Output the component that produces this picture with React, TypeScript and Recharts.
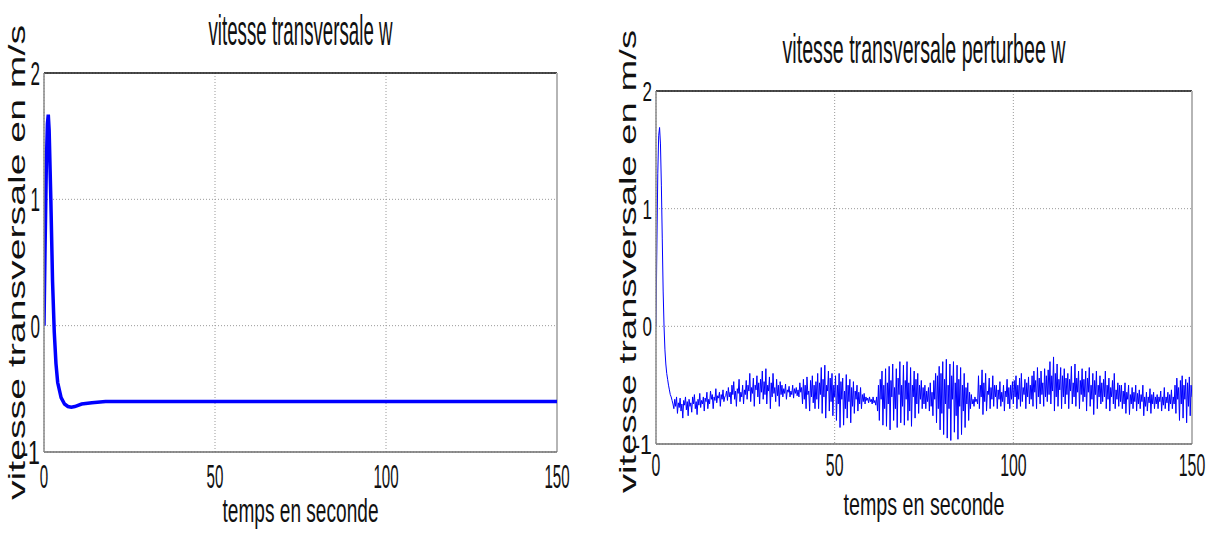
import React from 'react';
import { LineChart, Line, XAxis, YAxis, CartesianGrid, ReferenceLine } from 'recharts';

const xTicks = [0, 50, 100, 150];
const yTicks = [-1, 0, 1, 2];

const titreGauche = 'vitesse transversale w';
const titreDroite = 'vitesse transversale perturbee w';
const labelX = 'temps en seconde';
const labelY = 'vitesse transversale en m/s';

// w(t) sans perturbation
const tempsW = [0, 0.3, 0.7, 1.0, 1.25, 1.5, 2, 2.5, 3, 3.5, 4, 5, 6, 7, 8, 9, 11, 14, 18, 25, 150];
const vitesseW = [0, 0.6, 1.3, 1.6, 1.67, 1.55, 1.0, 0.35, -0.05, -0.3, -0.45, -0.57, -0.62, -0.64, -0.645, -0.64, -0.62, -0.61, -0.6, -0.6, -0.6];

// w(t) perturbee, un point toutes les 0.25 s de 0 a 150 s (une ligne = 5 s)
const pas = 0.25;
const vitesseWp = [
  0, 0.7, 1.3, 1.62, 1.69, 1.55, 1.2, 0.75, 0.3, 0.0, -0.2, -0.32, -0.4, -0.45, -0.5, -0.54, -0.58, -0.6, -0.63, -0.66,
  -0.7, -0.62, -0.68, -0.6, -0.74, -0.65, -0.69, -0.61, -0.72, -0.66, -0.78, -0.63, -0.67, -0.6, -0.71, -0.64, -0.76, -0.62, -0.68, -0.65,
  -0.73, -0.6, -0.66, -0.58, -0.7, -0.64, -0.75, -0.62, -0.67, -0.57, -0.69, -0.63, -0.66, -0.6, -0.72, -0.61, -0.64, -0.56, -0.7, -0.62,
  -0.66, -0.55, -0.62, -0.58, -0.7, -0.6, -0.63, -0.53, -0.65, -0.59, -0.61, -0.56, -0.68, -0.58, -0.62, -0.54, -0.64, -0.6, -0.59, -0.55,
  -0.63, -0.52, -0.6, -0.56, -0.66, -0.5, -0.58, -0.47, -0.62, -0.55, -0.68, -0.53, -0.57, -0.45, -0.64, -0.56, -0.6, -0.5, -0.66, -0.54,
  -0.58, -0.46, -0.62, -0.5, -0.55, -0.4, -0.64, -0.52, -0.57, -0.44, -0.68, -0.5, -0.54, -0.42, -0.6, -0.48, -0.66, -0.45, -0.56, -0.38,
  -0.62, -0.47, -0.58, -0.36, -0.66, -0.5, -0.55, -0.43, -0.7, -0.48, -0.6, -0.4, -0.57, -0.52, -0.64, -0.45, -0.59, -0.5, -0.68, -0.47,
  -0.58, -0.5, -0.6, -0.53, -0.57, -0.49, -0.62, -0.54, -0.56, -0.51, -0.6, -0.55, -0.58, -0.5, -0.61, -0.53, -0.57, -0.52, -0.59, -0.54,
  -0.6, -0.48, -0.56, -0.52, -0.66, -0.45, -0.62, -0.5, -0.7, -0.43, -0.58, -0.55, -0.72, -0.46, -0.6, -0.42, -0.65, -0.5, -0.7, -0.47,
  -0.62, -0.4, -0.7, -0.48, -0.58, -0.35, -0.74, -0.45, -0.6, -0.33, -0.78, -0.5, -0.55, -0.38, -0.72, -0.44, -0.64, -0.4, -0.76, -0.5,
  -0.6, -0.42, -0.8, -0.5, -0.66, -0.4, -0.86, -0.47, -0.62, -0.44, -0.84, -0.55, -0.7, -0.41, -0.78, -0.5, -0.64, -0.45, -0.82, -0.52,
  -0.68, -0.47, -0.74, -0.55, -0.62, -0.5, -0.72, -0.56, -0.66, -0.52, -0.7, -0.58, -0.64, -0.57, -0.66, -0.6, -0.63, -0.61, -0.65, -0.6,
  -0.64, -0.62, -0.66, -0.6, -0.65, -0.63, -0.67, -0.6, -0.72, -0.5, -0.8, -0.45, -0.62, -0.38, -0.84, -0.5, -0.7, -0.36, -0.85, -0.48,
  -0.66, -0.34, -0.88, -0.46, -0.6, -0.32, -0.8, -0.52, -0.7, -0.36, -0.86, -0.44, -0.58, -0.3, -0.82, -0.5, -0.68, -0.33, -0.84, -0.46,
  -0.62, -0.3, -0.8, -0.48, -0.72, -0.35, -0.85, -0.5, -0.6, -0.38, -0.78, -0.45, -0.66, -0.4, -0.74, -0.5, -0.62, -0.46, -0.7, -0.52,
  -0.66, -0.5, -0.7, -0.55, -0.64, -0.52, -0.72, -0.48, -0.68, -0.56, -0.76, -0.46, -0.62, -0.4, -0.82, -0.42, -0.7, -0.34, -0.88, -0.4,
  -0.74, -0.3, -0.92, -0.45, -0.66, -0.28, -0.95, -0.5, -0.7, -0.32, -0.97, -0.42, -0.62, -0.3, -0.9, -0.48, -0.76, -0.33, -0.96, -0.45,
  -0.68, -0.35, -0.92, -0.5, -0.72, -0.4, -0.86, -0.52, -0.66, -0.48, -0.8, -0.56, -0.7, -0.58, -0.66, -0.62, -0.68, -0.6, -0.64, -0.62,
  -0.66, -0.42, -0.7, -0.5, -0.6, -0.37, -0.75, -0.48, -0.64, -0.4, -0.72, -0.55, -0.58, -0.44, -0.7, -0.52, -0.62, -0.42, -0.68, -0.5,
  -0.6, -0.5, -0.7, -0.54, -0.62, -0.47, -0.68, -0.56, -0.64, -0.5, -0.72, -0.55, -0.6, -0.45, -0.66, -0.52, -0.7, -0.5, -0.62, -0.47,
  -0.66, -0.46, -0.6, -0.42, -0.7, -0.5, -0.62, -0.44, -0.68, -0.4, -0.64, -0.52, -0.58, -0.45, -0.7, -0.48, -0.6, -0.43, -0.66, -0.5,
  -0.62, -0.42, -0.68, -0.38, -0.56, -0.46, -0.7, -0.35, -0.6, -0.44, -0.66, -0.38, -0.58, -0.48, -0.68, -0.36, -0.6, -0.42, -0.64, -0.37,
  -0.58, -0.3, -0.66, -0.42, -0.55, -0.26, -0.72, -0.4, -0.6, -0.32, -0.68, -0.45, -0.54, -0.35, -0.7, -0.42, -0.6, -0.36, -0.66, -0.44,
  -0.58, -0.4, -0.7, -0.45, -0.55, -0.34, -0.66, -0.48, -0.6, -0.32, -0.68, -0.44, -0.56, -0.38, -0.7, -0.46, -0.58, -0.36, -0.64, -0.45,
  -0.6, -0.38, -0.72, -0.44, -0.56, -0.35, -0.68, -0.5, -0.62, -0.4, -0.75, -0.46, -0.58, -0.38, -0.7, -0.5, -0.6, -0.42, -0.66, -0.48,
  -0.64, -0.45, -0.6, -0.38, -0.7, -0.5, -0.62, -0.44, -0.72, -0.52, -0.6, -0.46, -0.66, -0.4, -0.7, -0.54, -0.62, -0.48, -0.68, -0.5,
  -0.64, -0.5, -0.7, -0.55, -0.66, -0.48, -0.74, -0.56, -0.62, -0.5, -0.75, -0.58, -0.66, -0.52, -0.7, -0.56, -0.64, -0.5, -0.72, -0.57,
  -0.66, -0.54, -0.7, -0.58, -0.64, -0.5, -0.76, -0.6, -0.68, -0.56, -0.72, -0.6, -0.65, -0.53, -0.74, -0.58, -0.66, -0.56, -0.7, -0.6,
  -0.66, -0.58, -0.7, -0.6, -0.64, -0.55, -0.72, -0.6, -0.67, -0.52, -0.7, -0.6, -0.65, -0.56, -0.72, -0.58, -0.66, -0.54, -0.7, -0.6,
  -0.66, -0.5, -0.74, -0.44, -0.62, -0.52, -0.8, -0.46, -0.66, -0.42, -0.78, -0.5, -0.62, -0.45, -0.82, -0.48, -0.68, -0.43, -0.76, -0.5,
  -0.6,
];

const dataW = tempsW.map((t, i) => ({ t, w: vitesseW[i] }));
const dataWp = vitesseWp.map((w, i) => ({ t: i * pas, w }));

const police = '"Liberation Sans Narrow", "Liberation Sans", Arial, sans-serif';

// texte etroit facon figure matlab etiree
const Etroit = ({ x, y, fs, longueur, anchor = 'middle', rot = false, children }: any) => (
  <text
    x={x}
    y={y}
    fontSize={fs}
    fontFamily={police}
    fill="#111"
    textAnchor={anchor}
    textLength={longueur}
    lengthAdjust="spacingAndGlyphs"
    transform={rot ? `rotate(-90, ${x}, ${y})` : undefined}
  >
    {children}
  </text>
);

const tickX = (fs: number, cw: number, dy: number) => (props: any) => {
  const s = String(props.payload.value);
  return (
    <Etroit x={props.x} y={props.y + dy} fs={fs} longueur={s.length * cw}>
      {s}
    </Etroit>
  );
};

const tickY = (fs: number, cw: number) => (props: any) => {
  const s = String(props.payload.value);
  return (
    <Etroit x={props.x - 4} y={props.y + fs * 0.36} fs={fs} longueur={s.length * cw} anchor="end">
      {s}
    </Etroit>
  );
};

const titre = (texte: string, fs: number, longueur: number) => (props: any) => {
  const vb = props.viewBox;
  return (
    <Etroit x={vb.x + vb.width / 2} y={vb.y - 28} fs={fs} longueur={longueur}>
      {texte}
    </Etroit>
  );
};

const labelAxeX = (fs: number, longueur: number, dy: number) => (props: any) => {
  const vb = props.viewBox;
  return (
    <Etroit x={vb.x + vb.width / 2} y={vb.y + dy} fs={fs} longueur={longueur}>
      {labelX}
    </Etroit>
  );
};

const labelAxeY = (fs: number, longueur: number, dx: number, dy: number) => (props: any) => {
  const vb = props.viewBox;
  return (
    <Etroit x={vb.x + vb.width - dx} y={vb.y + vb.height / 2 + dy} fs={fs} longueur={longueur} rot>
      {labelY}
    </Etroit>
  );
};

interface PanneauProps {
  data: { t: number; w: number }[];
  largeur: number;
  marge: { top: number; right: number; bottom: number; left: number };
  titreTexte: string;
  titreFs: number;
  titreLong: number;
  epaisseur: number;
  tx: [number, number, number];
  ty: [number, number];
  lx: [number, number, number];
  ly: [number, number, number, number];
}

const Panneau = (p: PanneauProps) => (
  <LineChart width={p.largeur} height={534} data={p.data} margin={p.marge}>
    <CartesianGrid stroke="#9a9a9a" strokeDasharray="1 2" />
    <XAxis
      type="number"
      dataKey="t"
      domain={[0, 150]}
      ticks={xTicks}
      height={60}
      tickSize={0}
      tickMargin={0}
      tickLine={false}
      axisLine={{ stroke: '#6e6e6e', strokeWidth: 1.5 }}
      tick={tickX(p.tx[0], p.tx[1], p.tx[2])}
      label={labelAxeX(p.lx[0], p.lx[1], p.lx[2])}
      allowDataOverflow
    />
    <YAxis
      type="number"
      domain={[-1, 2]}
      ticks={yTicks}
      width={40}
      tickSize={0}
      tickMargin={0}
      tickLine={false}
      axisLine={{ stroke: '#8a8a8a', strokeWidth: 1.5 }}
      tick={tickY(p.ty[0], p.ty[1])}
      label={labelAxeY(p.ly[0], p.ly[1], p.ly[2], p.ly[3])}
      allowDataOverflow
    />
    <ReferenceLine y={2} stroke="#111" strokeWidth={1.5} label={titre(p.titreTexte, p.titreFs, p.titreLong)} />
    <ReferenceLine x={150} stroke="#b5b5b5" strokeWidth={2} />
    <Line
      type="linear"
      dataKey="w"
      stroke="#0000ff"
      strokeWidth={p.epaisseur}
      dot={false}
      isAnimationActive={false}
    />
  </LineChart>
);

export default function App() {
  return (
    <div style={{ position: 'absolute', left: 0, top: 0, width: 1215, height: 534, background: '#fff' }}>
      <div style={{ position: 'absolute', left: 0, top: 0 }}>
        <Panneau
          data={dataW}
          largeur={600}
          marge={{ top: 73, right: 43, bottom: 22, left: 4 }}
          titreTexte={titreGauche}
          titreFs={43}
          titreLong={184}
          epaisseur={3.5}
          tx={[33, 8.4, 36]}
          ty={[33, 9.5]}
          lx={[33, 156, 70]}
          ly={[24, 475, 19, 0]}
        />
      </div>
      <div style={{ position: 'absolute', left: 600, top: 0 }}>
        <Panneau
          data={dataWp}
          largeur={615}
          marge={{ top: 91, right: 23, bottom: 30, left: 16 }}
          titreTexte={titreDroite}
          titreFs={41}
          titreLong={283}
          epaisseur={1}
          tx={[31, 8.8, 32]}
          ty={[28, 9.5]}
          lx={[32, 161, 71]}
          ly={[24, 463, 20, -6]}
        />
      </div>
    </div>
  );
}
